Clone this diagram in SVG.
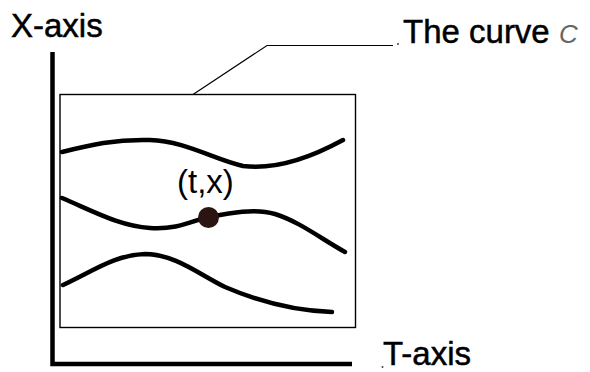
<svg xmlns="http://www.w3.org/2000/svg" width="590" height="372" viewBox="0 0 590 372">
<style>
.lbl{font-family:"Liberation Sans",Arial,sans-serif;font-size:33px;fill:#000;stroke:#000;stroke-width:0.5}
.curve{fill:none;stroke:#000;stroke-width:4.5;stroke-linecap:round;stroke-linejoin:round}
.axis{fill:none;stroke:#000;stroke-width:4.5}
</style>
<rect width="590" height="372" fill="#fff"/>
<g id="axes">
<path class="axis" d="M52.5,52 V364 H352"/>
</g>
<g id="x-axis-label"><text class="lbl" x="11" y="37">X-axis</text></g>
<g id="t-axis-label"><circle cx="382.5" cy="367" r="1" fill="#444"/><text class="lbl" x="383" y="365">T-axis</text></g>
<g id="frame"><rect x="60" y="94.5" width="295.5" height="233" fill="none" stroke="#000" stroke-width="1.4"/></g>
<g id="curves">
<path class="curve" d="M62,152 C90,145 115,139 150,140 C185,141 215,160 243,166 C275,170 310,158 343,140"/>
<path class="curve" d="M62,198 C95,212 120,226 150,228 C180,230 195,219 210,217 C230,213 255,208 275,214 C300,222 320,238 345,252"/>
<path class="curve" d="M63,285 C95,270 115,255 145,254 C175,254 200,275 225,287 C260,302 295,311 332,312"/>
</g>
<g id="point">
<circle cx="208.5" cy="217.5" r="10.5" fill="#2b1512"/>
<text x="177" y="193" font-family="Liberation Sans,Arial,sans-serif" font-size="33" fill="#000">(t,x)</text>
</g>
<g id="connectors">
<path d="M193,94.5 L267,45.5 H393" fill="none" stroke="#000" stroke-width="1.2"/>
</g>
<g id="curve-label">
<circle cx="398" cy="44" r="1" fill="#444"/>
<text class="lbl" x="403" y="43">The curve <tspan font-style="italic" font-size="26" fill="#666" stroke="none">C</tspan></text>
</g>
</svg>
